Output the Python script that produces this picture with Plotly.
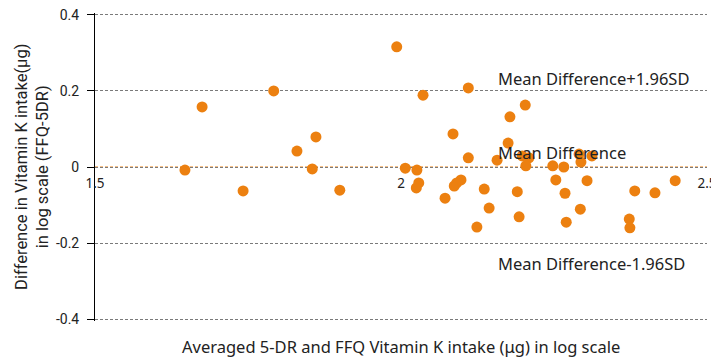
import plotly.graph_objects as go

avg_log = [1.647, 1.675, 1.742, 1.792, 1.830, 1.855, 1.861, 1.900, 1.993, 2.036,
           2.110, 2.178, 2.085, 2.175, 2.110, 2.157, 2.007, 2.026, 2.029, 2.025,
           2.072, 2.087, 2.091, 2.098, 2.136, 2.144, 2.124, 2.190, 2.193, 2.203,
           2.198, 2.209, 2.204, 2.248, 2.266, 2.294, 2.291, 2.312, 2.253, 2.304,
           2.268, 2.270, 2.293, 2.373, 2.374, 2.382, 2.415, 2.448]
diff_log = [-0.008, 0.158, -0.063, 0.200, 0.042, -0.005, 0.079, -0.061, 0.316, 0.189,
            0.208, 0.132, 0.087, 0.063, 0.024, 0.018, -0.003, -0.008, -0.042, -0.055,
            -0.082, -0.050, -0.042, -0.034, -0.058, -0.108, -0.158, -0.065, -0.131, 0.163,
            0.029, 0.024, 0.003, 0.003, 0.000, 0.013, 0.034, 0.029, -0.034, -0.036,
            -0.069, -0.145, -0.111, -0.137, -0.160, -0.063, -0.068, -0.036]

mean_diff = 0.0
upper_loa = 0.2
lower_loa = -0.2

x_ticks = [1.5, 2, 2.5]
x_tick_labels = ["1.5", "2", "2.5"]
y_ticks = [-0.4, -0.2, 0, 0.2, 0.4]
y_tick_labels = ["-0.4", "-0.2", "0", "0.2", "0.4"]

orange = "#EC8010"
font = "Noto Sans"

fig = go.Figure()
fig.add_trace(go.Scatter(
    x=avg_log, y=diff_log, mode="markers",
    marker=dict(color=orange, size=11, line=dict(width=0)),
    showlegend=False, cliponaxis=False,
))

# hide grey grid at mean, then draw orange dashed mean line
fig.add_shape(type="line", xref="paper", yref="y", x0=0, x1=1, y0=mean_diff, y1=mean_diff,
              line=dict(color="white", width=2), layer="below")
fig.add_shape(type="line", xref="paper", yref="y", x0=0, x1=1, y0=mean_diff, y1=mean_diff,
              line=dict(color=orange, width=1, dash="3px,2px"), layer="below")

annots = [
    dict(x=2.155, y=upper_loa + 0.034, text="Mean Difference+1.96SD"),
    dict(x=2.155, y=mean_diff + 0.037, text="Mean Difference"),
    dict(x=2.155, y=lower_loa - 0.055, text="Mean Difference-1.96SD"),
]
for a in annots:
    fig.add_annotation(x=a["x"], y=a["y"], text=a["text"], xref="x", yref="y",
                       xanchor="left", yanchor="middle", showarrow=False,
                       font=dict(family=font, size=16.5, color="#222"))

fig.add_annotation(x=0.5, y=-0.084, xref="paper", yref="paper",
                   text="Averaged 5-DR and FFQ Vitamin K intake (μg) in log scale",
                   showarrow=False, xanchor="center", yanchor="middle",
                   font=dict(family=font, size=16.5, color="#222"))
fig.add_annotation(x=-0.139, y=0.5, xref="paper", yref="paper",
                   text="Difference in Vitamin K intake(μg)<br>in log scale (FFQ-5DR)",
                   showarrow=False, textangle=-90, xanchor="left", yanchor="middle",
                   font=dict(family="Roboto", size=16.5, color="#222"))

fig.update_layout(
    width=711, height=351,
    margin=dict(l=87, r=12, t=5, b=38),
    paper_bgcolor="white", plot_bgcolor="white",
    font=dict(family=font, size=13, color="#222"),
    xaxis=dict(range=[1.5, 2.5], tickvals=x_ticks, ticktext=x_tick_labels,
               showgrid=False, zeroline=False, showline=False,
               anchor="free", position=0.5, ticks="", automargin=False,
               ticklabelstandoff=6, ticklabeloverflow="allow",
               tickfont=dict(family=font, size=13.5, color="#222")),
    yaxis=dict(range=[-0.405, 0.405], tickvals=y_ticks, ticktext=y_tick_labels,
               showgrid=True, gridcolor="#7a7a7a", griddash="3px,2px", gridwidth=1,
               zeroline=False, showline=True, linecolor="black", linewidth=1,
               ticks="outside", ticklen=7, tickcolor="black", automargin=False,
               ticklabelstandoff=5, ticklabeloverflow="allow",
               tickfont=dict(family="Roboto", size=14, color="#222")),
)

fig.write_html("out.html")
